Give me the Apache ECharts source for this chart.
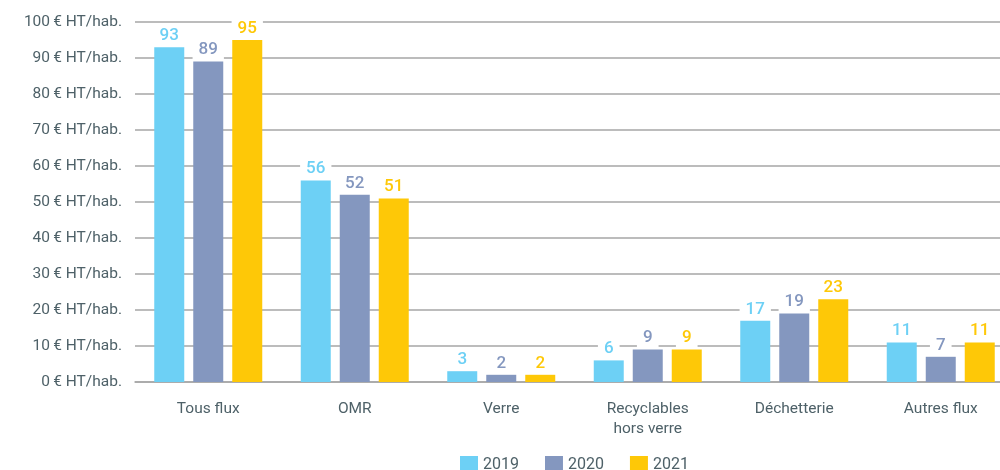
<!DOCTYPE html>
<html>
<head>
<meta charset="utf-8">
<script src="https://cdn.jsdelivr.net/npm/echarts@6/dist/echarts.min.js"></script>
<style>
html,body{margin:0;padding:0;background:#fff;}
#chart{width:1000px;height:470px;}
</style>
</head>
<body>
<div id="chart"></div>
<script>
// Cost per inhabitant by waste stream, € HT/hab.
const categories = ['Tous flux', 'OMR', 'Verre', 'Recyclables\nhors verre', 'Déchetterie', 'Autres flux'];
const years = ['2019', '2020', '2021'];
const values2019 = [93, 56, 3, 6, 17, 11];
const values2020 = [89, 52, 2, 9, 19, 7];
const values2021 = [95, 51, 2, 9, 23, 11];
const colors = ['#6dd0f5', '#8497bf', '#fec807'];

const chart = echarts.init(document.getElementById('chart'));
const textColor = '#4e6168';
const font = 'Roboto';

function series(name, data, color) {
  return {
    name: name,
    type: 'bar',
    data: data,
    barWidth: 30,
    barGap: '30%',
    itemStyle: { color: color },
    label: {
      show: true,
      position: 'top',
      distance: 1,
      color: color,
      fontFamily: font,
      fontSize: 17,
      fontWeight: 500,
      backgroundColor: '#fff',
      padding: [4, 6, 2, 6]
    }
  };
}

chart.setOption({
  animation: false,
  color: colors,
  grid: { left: 135, top: 22, right: -14, bottom: 88, containLabel: false, outerBoundsMode: 'none' },
  legend: {
    top: 451,
    left: 455,
    itemWidth: 18,
    itemHeight: 18,
    itemGap: 26,
    icon: 'rect',
    textStyle: { color: textColor, fontFamily: font, fontSize: 16 },
    data: years
  },
  xAxis: {
    type: 'category',
    data: categories,
    axisLine: { show: true, lineStyle: { color: '#a6a6a6', width: 1.5 } },
    axisTick: { show: false },
    axisLabel: { color: textColor, fontFamily: font, fontSize: 15.5, margin: 17, lineHeight: 20 }
  },
  yAxis: {
    type: 'value',
    min: 0,
    max: 100,
    interval: 10,
    axisLine: { show: false },
    axisTick: { show: false },
    splitLine: { lineStyle: { color: '#a6a6a6', width: 1.5 } },
    axisLabel: {
      color: textColor,
      fontFamily: font,
      fontSize: 15.5,
      margin: 13,
      formatter: v => v + '\u2009€ HT/hab.'
    }
  },
  series: [
    series(years[0], values2019, colors[0]),
    series(years[1], values2020, colors[1]),
    series(years[2], values2021, colors[2])
  ]
});
</script>
</body>
</html>
